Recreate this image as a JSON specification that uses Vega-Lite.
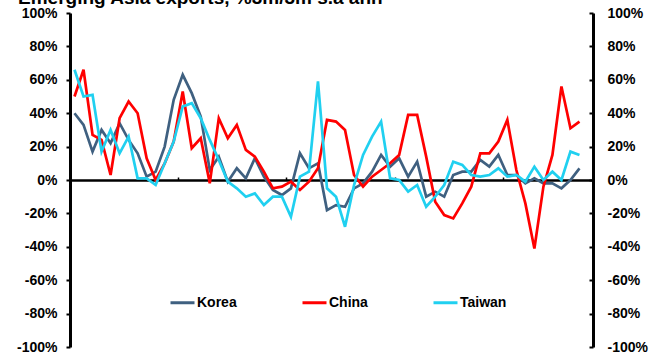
{
  "$schema": "https://vega.github.io/schema/vega-lite/v6.json",
  "width": 523,
  "height": 334,
  "autosize": {"type": "none"},
  "padding": {"left": 70, "top": 13, "right": 64, "bottom": 9},
  "background": "white",
  "config": {"view": {"stroke": null}, "font": "Liberation Sans"},
  "title": {
    "text": "Emerging Asia exports, %3m/3m s.a ann",
    "anchor": "start",
    "frame": "group",
    "fontSize": 19,
    "fontWeight": "bold",
    "font": "Liberation Sans",
    "color": "black",
    "baseline": "alphabetic",
    "offset": 0,
    "dx": -52,
    "dy": 17
  },
  "data": {
    "values": [
      {"m": 0, "Korea": 40, "China": 50, "Taiwan": 66},
      {"m": 1, "Korea": 33, "China": 66, "Taiwan": 50},
      {"m": 2, "Korea": 17, "China": 27, "Taiwan": 51},
      {"m": 3, "Korea": 30, "China": 24, "Taiwan": 17},
      {"m": 4, "Korea": 22, "China": 3, "Taiwan": 30},
      {"m": 5, "Korea": 34, "China": 37, "Taiwan": 16},
      {"m": 6, "Korea": 24, "China": 47, "Taiwan": 26},
      {"m": 7, "Korea": 16, "China": 40, "Taiwan": 1},
      {"m": 8, "Korea": 2, "China": 13, "Taiwan": 1},
      {"m": 9, "Korea": 5, "China": 0, "Taiwan": -3},
      {"m": 10, "Korea": 20, "China": 10, "Taiwan": 10},
      {"m": 11, "Korea": 48, "China": 23, "Taiwan": 23},
      {"m": 12, "Korea": 63, "China": 53, "Taiwan": 44},
      {"m": 13, "Korea": 52, "China": 19, "Taiwan": 46},
      {"m": 14, "Korea": 38, "China": 25, "Taiwan": 37},
      {"m": 15, "Korea": 6, "China": -2, "Taiwan": 24},
      {"m": 16, "Korea": 14, "China": 37, "Taiwan": 12},
      {"m": 17, "Korea": -1, "China": 25, "Taiwan": -1},
      {"m": 18, "Korea": 7, "China": 33, "Taiwan": -5},
      {"m": 19, "Korea": 1, "China": 18, "Taiwan": -10},
      {"m": 20, "Korea": 13, "China": 14, "Taiwan": -8},
      {"m": 21, "Korea": 2, "China": 5, "Taiwan": -15},
      {"m": 22, "Korea": -6, "China": -5, "Taiwan": -10},
      {"m": 23, "Korea": -9, "China": -4, "Taiwan": -10},
      {"m": 24, "Korea": -5, "China": -1, "Taiwan": -22},
      {"m": 25, "Korea": 16, "China": -6, "Taiwan": 2},
      {"m": 26, "Korea": 7, "China": -1, "Taiwan": 5},
      {"m": 27, "Korea": 10, "China": 7, "Taiwan": 59},
      {"m": 28, "Korea": -18, "China": 36, "Taiwan": -5},
      {"m": 29, "Korea": -15, "China": 35, "Taiwan": -10},
      {"m": 30, "Korea": -16, "China": 30, "Taiwan": -28},
      {"m": 31, "Korea": -5, "China": 3, "Taiwan": -3},
      {"m": 32, "Korea": -2, "China": -4, "Taiwan": 15},
      {"m": 33, "Korea": 5, "China": 2, "Taiwan": 26},
      {"m": 34, "Korea": 15, "China": 6, "Taiwan": 35},
      {"m": 35, "Korea": 8, "China": 10, "Taiwan": 1},
      {"m": 36, "Korea": 13, "China": 15, "Taiwan": 0},
      {"m": 37, "Korea": 2, "China": 39, "Taiwan": -7},
      {"m": 38, "Korea": 11, "China": 39, "Taiwan": -3},
      {"m": 39, "Korea": -10, "China": 14, "Taiwan": -16},
      {"m": 40, "Korea": -7, "China": -13, "Taiwan": -10},
      {"m": 41, "Korea": -10, "China": -21, "Taiwan": -3},
      {"m": 42, "Korea": 3, "China": -23, "Taiwan": 11},
      {"m": 43, "Korea": 5, "China": -14, "Taiwan": 9},
      {"m": 44, "Korea": 5, "China": -4, "Taiwan": 3},
      {"m": 45, "Korea": 12, "China": 16, "Taiwan": 2},
      {"m": 46, "Korea": 8, "China": 16, "Taiwan": 3},
      {"m": 47, "Korea": 15, "China": 23, "Taiwan": 7},
      {"m": 48, "Korea": 3, "China": 36, "Taiwan": 2},
      {"m": 49, "Korea": 3, "China": 6, "Taiwan": 3},
      {"m": 50, "Korea": -2, "China": -14, "Taiwan": -1},
      {"m": 51, "Korea": 1, "China": -41, "Taiwan": 8},
      {"m": 52, "Korea": -2, "China": -4, "Taiwan": 0},
      {"m": 53, "Korea": -2, "China": 15, "Taiwan": 5},
      {"m": 54, "Korea": -5, "China": 56, "Taiwan": 0},
      {"m": 55, "Korea": 0, "China": 31, "Taiwan": 17},
      {"m": 56, "Korea": 7, "China": 35, "Taiwan": 15}
    ]
  },
  "transform": [{"fold": ["Korea", "China", "Taiwan"], "as": ["country", "value"]}],
  "layer": [
    {
      "mark": {"type": "line", "strokeWidth": 2.7},
      "encoding": {
        "x": {
          "field": "m",
          "type": "quantitative",
          "scale": {"domain": [-0.5, 57.5], "nice": false, "zero": false},
          "axis": {
            "orient": "top",
            "offset": -167,
            "values": [11.5, 23.5, 35.5, 47.5],
            "labels": false,
            "domainColor": "black",
            "domainWidth": 2.5,
            "tickColor": "black",
            "tickWidth": 1.5,
            "tickSize": 3,
            "grid": false,
            "title": null
          }
        },
        "y": {
          "field": "value",
          "type": "quantitative",
          "scale": {"domain": [-100, 100], "nice": false},
          "axis": {
            "orient": "left",
            "values": [-100, -80, -60, -40, -20, 0, 20, 40, 60, 80, 100],
            "labelExpr": "datum.value + '%'",
            "domainColor": "black",
            "domainWidth": 3,
            "tickColor": "black",
            "tickWidth": 2,
            "tickSize": 4,
            "labelFont": "Liberation Sans",
            "labelFontSize": 14,
            "labelFontWeight": "bold",
            "labelColor": "black",
            "labelPadding": 9,
            "grid": false,
            "title": null
          }
        },
        "color": {
          "field": "country",
          "type": "nominal",
          "scale": {"domain": ["Korea", "China", "Taiwan"], "range": ["#3F6080", "#FF0000", "#20D0F0"]},
          "legend": {
            "orient": "none",
            "legendX": 99,
            "legendY": 276,
            "direction": "horizontal",
            "title": null,
            "symbolType": "stroke",
            "symbolSize": 576,
            "symbolStrokeWidth": 3,
            "labelFont": "Liberation Sans",
            "labelFontSize": 14,
            "labelFontWeight": "bold",
            "labelColor": "black",
            "labelOffset": 1,
            "columnPadding": 59,
            "padding": 0
          }
        }
      }
    },
    {
      "mark": {"type": "rule", "opacity": 0},
      "encoding": {
        "y": {
          "datum": 0,
          "type": "quantitative",
          "axis": {
            "orient": "right",
            "values": [-100, -80, -60, -40, -20, 0, 20, 40, 60, 80, 100],
            "labelExpr": "datum.value + '%'",
            "domainColor": "black",
            "domainWidth": 3,
            "tickColor": "black",
            "tickWidth": 2,
            "tickSize": -4,
            "labelFont": "Liberation Sans",
            "labelFontSize": 14,
            "labelFontWeight": "bold",
            "labelColor": "black",
            "labelPadding": 18,
            "grid": false,
            "title": null
          }
        }
      }
    }
  ],
  "resolve": {"axis": {"y": "independent"}}
}
